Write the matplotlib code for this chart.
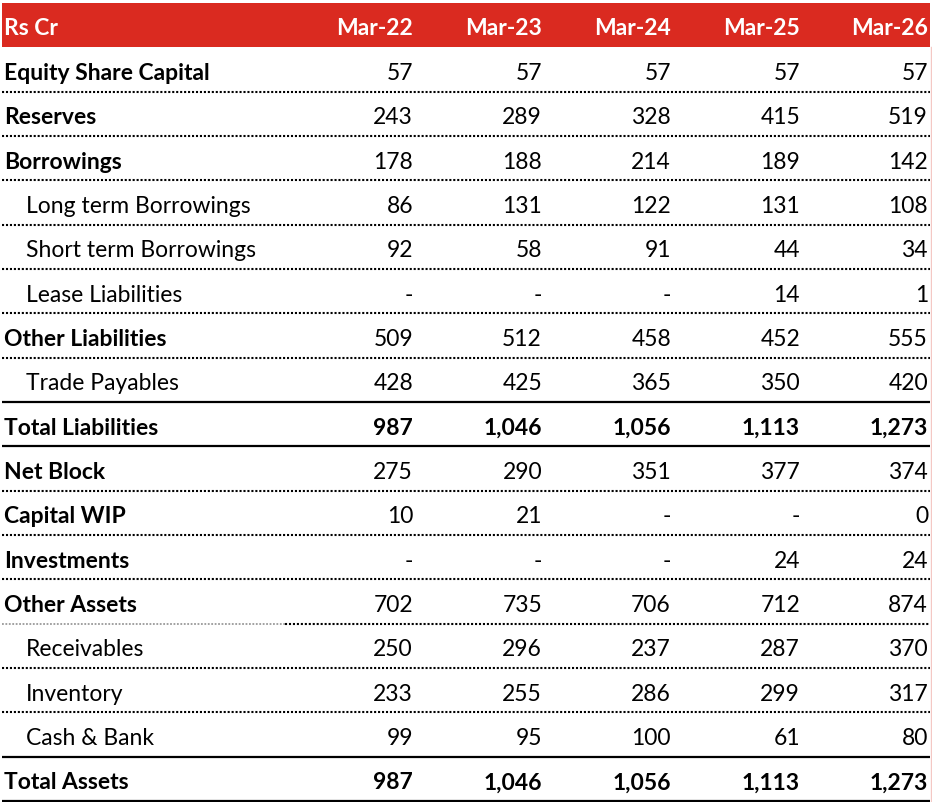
import matplotlib.pyplot as plt

plt.rcParams['font.family'] = ['Lato', 'DejaVu Sans']

# table data
header_label = "Rs Cr"
periods = ["Mar-22", "Mar-23", "Mar-24", "Mar-25", "Mar-26"]
row_labels = [
    "Equity Share Capital", "Reserves", "Borrowings", "Long term Borrowings",
    "Short term Borrowings", "Lease Liabilities", "Other Liabilities",
    "Trade Payables", "Total Liabilities", "Net Block", "Capital WIP",
    "Investments", "Other Assets", "Receivables", "Inventory", "Cash & Bank",
    "Total Assets",
]
row_values = [
    ["57", "57", "57", "57", "57"],
    ["243", "289", "328", "415", "519"],
    ["178", "188", "214", "189", "142"],
    ["86", "131", "122", "131", "108"],
    ["92", "58", "91", "44", "34"],
    ["-", "-", "-", "14", "1"],
    ["509", "512", "458", "452", "555"],
    ["428", "425", "365", "350", "420"],
    ["987", "1,046", "1,056", "1,113", "1,273"],
    ["275", "290", "351", "377", "374"],
    ["10", "21", "-", "-", "0"],
    ["-", "-", "-", "24", "24"],
    ["702", "735", "706", "712", "874"],
    ["250", "296", "237", "287", "370"],
    ["233", "255", "286", "299", "317"],
    ["99", "95", "100", "61", "80"],
    ["987", "1,046", "1,056", "1,113", "1,273"],
]
bold_rows = {"Equity Share Capital", "Reserves", "Borrowings", "Other Liabilities",
             "Total Liabilities", "Net Block", "Capital WIP", "Investments",
             "Other Assets", "Total Assets"}
total_rows = {"Total Liabilities", "Total Assets"}

W, H = 932, 803
fig = plt.figure(figsize=(W / 100, H / 100), dpi=100)
ax = fig.add_axes([0, 0, 1, 1])
ax.set_xlim(0, W)
ax.set_ylim(H, 0)
ax.axis('off')

red = '#DA2A20'
top = 4
row_h = (802 - top) / 18
col_right = [413, 542, 671, 800, 928]
fs = 16.5
dots = (0, (1, 0.9))

# header
ax.add_patch(plt.Rectangle((2, top), 928, row_h, color=red, lw=0))
yc = top + row_h / 2 + 2
ax.text(4, yc, header_label, color='white', fontsize=fs, fontweight='bold',
        ha='left', va='center')
for x, p in zip(col_right, periods):
    ax.text(x, yc, p, color='white', fontsize=fs, fontweight='bold',
            ha='right', va='center')

# faint right border
ax.plot([930.5, 930.5], [top + row_h, 802], color='#f4c8c4', lw=1)

for i, (label, vals) in enumerate(zip(row_labels, row_values)):
    y0 = top + row_h * (i + 1)
    yc = y0 + row_h / 2 + 3
    bold = label in bold_rows
    weight = 'bold' if bold else 'normal'
    x_lab = 4 if bold else 26
    ax.text(x_lab, yc, label, fontsize=fs, fontweight=weight, ha='left',
            va='center', color='black')
    for x, v in zip(col_right, vals):
        ax.text(x, yc, v, fontsize=fs, fontweight=weight if label in total_rows else 'normal',
                ha='right', va='center', color='black')
    yb = y0 + row_h
    nxt = row_labels[i + 1] if i + 1 < len(row_labels) else None
    if label in total_rows or nxt in total_rows:
        ax.plot([2, 930], [yb, yb], color='black', lw=1.6, solid_capstyle='butt')
    elif label == "Other Assets":
        ax.plot([2, 285], [yb, yb], color='#9a9a9a', lw=1.3, ls=dots)
        ax.plot([285, 930], [yb, yb], color='black', lw=1.5, ls=dots)
    else:
        ax.plot([2, 930], [yb, yb], color='black', lw=1.5, ls=dots)

fig.savefig('out.png', dpi=100)
